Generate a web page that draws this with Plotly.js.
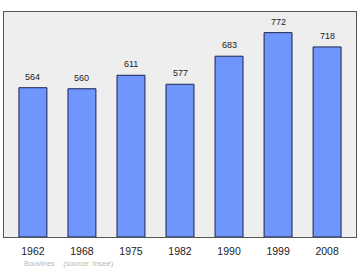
<!DOCTYPE html>
<html>
<head>
<meta charset="utf-8">
<script src="https://cdn.plot.ly/plotly-3.0.1.min.js"></script>
<style>html,body{margin:0;padding:0;background:#fff;}#chart{width:360px;height:270px;}</style>
</head>
<body>
<div id="chart"></div>
<script>
const years = ["1962", "1968", "1975", "1982", "1990", "1999", "2008"];
const population = [564, 560, 611, 577, 683, 772, 718];
const footer = "Bouvines    (source: Insee)";

const trace = {
  type: "bar",
  x: years,
  y: population,
  width: 0.57,
  marker: {color: "#6f96fc", line: {color: "#1a2350", width: 1}},
  hoverinfo: "none"
};

const labelAnnotations = years.map((yr, i) => ({
  x: i, y: population[i], xref: "x", yref: "y",
  text: String(population[i]), showarrow: false,
  yanchor: "bottom", yshift: 4,
  font: {family: "Liberation Sans, Arial, sans-serif", size: 9, color: "#222"}
}));

labelAnnotations.push({
  xref: "paper", yref: "paper", x: 0.051, y: -0.088,
  xanchor: "left", yanchor: "top", showarrow: false,
  text: footer,
  font: {family: "Liberation Sans, Arial, sans-serif", size: 7.5, color: "#b8b8b8"}
});

const layout = {
  width: 360, height: 270,
  margin: {l: 4, r: 4, t: 12, b: 33, pad: 0},
  paper_bgcolor: "#ffffff",
  plot_bgcolor: "#eeeeee",
  showlegend: false,
  xaxis: {
    type: "category",
    range: [-0.59, 6.59],
    showline: true, mirror: true, linecolor: "#555", linewidth: 1,
    showgrid: false, zeroline: false, ticks: "",
    ticklabelstandoff: 4,
    tickfont: {family: "Liberation Sans, Arial, sans-serif", size: 10.5, color: "#222"}
  },
  yaxis: {
    range: [0, 850],
    showline: true, mirror: true, linecolor: "#555", linewidth: 1,
    showgrid: false, zeroline: false, showticklabels: false, ticks: ""
  },
  annotations: labelAnnotations
};

Plotly.newPlot("chart", [trace], layout, {staticPlot: true, displayModeBar: false});
</script>
</body>
</html>
